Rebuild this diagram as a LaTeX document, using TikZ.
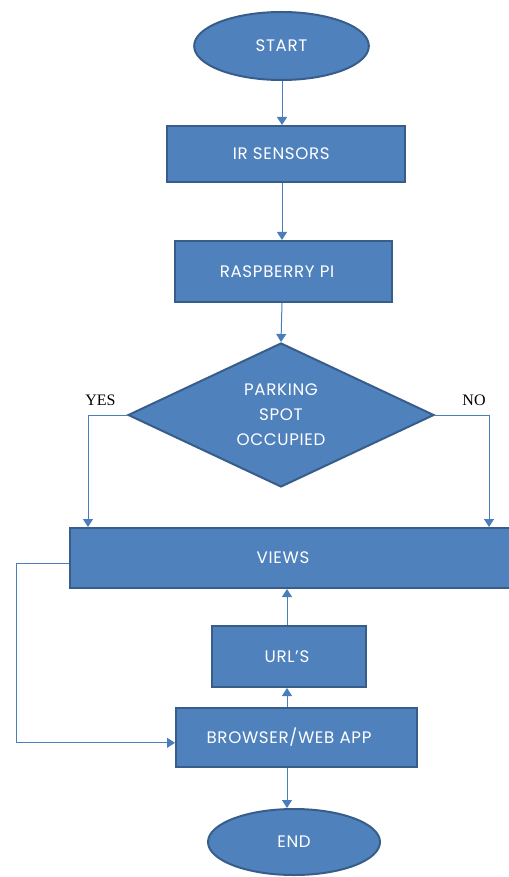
\documentclass[tikz,border=0pt]{standalone}
\usepackage{fontspec}
\setsansfont{Poppins}[LetterSpace=4]
\newfontfamily\yesnofont{Liberation Serif}
\usetikzlibrary{shapes.geometric,arrows.meta}
\definecolor{boxfill}{HTML}{4F81BD}
\definecolor{boxline}{HTML}{385D8A}
\definecolor{flowline}{HTML}{4A7EBB}
\tikzset{
  block/.style={draw=boxline, fill=boxfill, line width=1.5pt, text=white,
    font=\sffamily\fontsize{12.5}{15}\selectfont, inner sep=0pt},
  boxnode/.style={block, rectangle},
  term/.style={block, ellipse},
  nudge/.style={execute at begin node={\hspace*{-#1}}},
  flow/.style={draw=flowline, line width=0.75pt, -{Triangle[width=7.5pt,length=6pt]}},
  answer/.style={font=\yesnofont\fontsize{12}{14}\selectfont},
}

\begin{document}
\begin{tikzpicture}[x=0.75pt,y=-0.75pt]
\useasboundingbox (0,0) rectangle (508,877);

% columns of the connectors
\coordinate (col) at (282,0);
\coordinate (col2) at (287,0);
\coordinate (yescol) at (88,0);
\coordinate (nocol) at (489,0);

\node[term, minimum width=131pt, minimum height=51pt] (start) at (281.5,46) {START};
\node[boxnode, minimum width=178.5pt, minimum height=42pt, nudge=7pt] (ir) at (286,154) {IR SENSORS};
\node[boxnode, minimum width=162.75pt, minimum height=45.75pt, nudge=9.75pt] (pi) at (283.5,271.5) {RASPBERRY PI};
\node[block, diamond, aspect=2.1, minimum width=229.5pt, minimum height=108pt, align=center,
  font=\sffamily\fontsize{12.5}{18.75}\selectfont] (spot) at (281,415) {PARKING\\SPOT\\OCCUPIED};
\node[boxnode, minimum width=331.5pt, minimum height=45pt, nudge=12pt] (views) at (291,558) {VIEWS};
\node[boxnode, minimum width=115.5pt, minimum height=45.75pt, nudge=3pt] (urls) at (289,656.5) {URL’S};
\node[boxnode, minimum width=180.75pt, minimum height=44.25pt, nudge=11.25pt] (browser) at (296.5,737.5) {BROWSER/WEB APP};
\node[term, minimum width=129pt, minimum height=49.5pt] (end) at (294,842) {END};

\node[answer] (yes) at (100.5,400) {YES};
\node[answer] (no) at (474,400) {NO};

\draw[flow] (start.south -| col) -- (ir.north -| col);
\draw[flow] (ir.south -| col) -- (pi.north -| col);
\draw[flow] (pi.south -| col) -- (spot.north);
\draw[flow] (spot.west) -| (yescol |- views.north);
\draw[flow] (spot.east) -| (nocol |- views.north);
\draw[flow] (urls.north -| col2) -- (views.south -| col2);
\draw[flow] (browser.north -| col2) -- (urls.south -| col2);
\draw[flow] (browser.south -| col2) -- (end.north -| col2);
\draw[flow] ([yshift=-4pt]views.west) -- ++(-53,0) |- ([yshift=-4pt]browser.west);

\end{tikzpicture}
\end{document}
